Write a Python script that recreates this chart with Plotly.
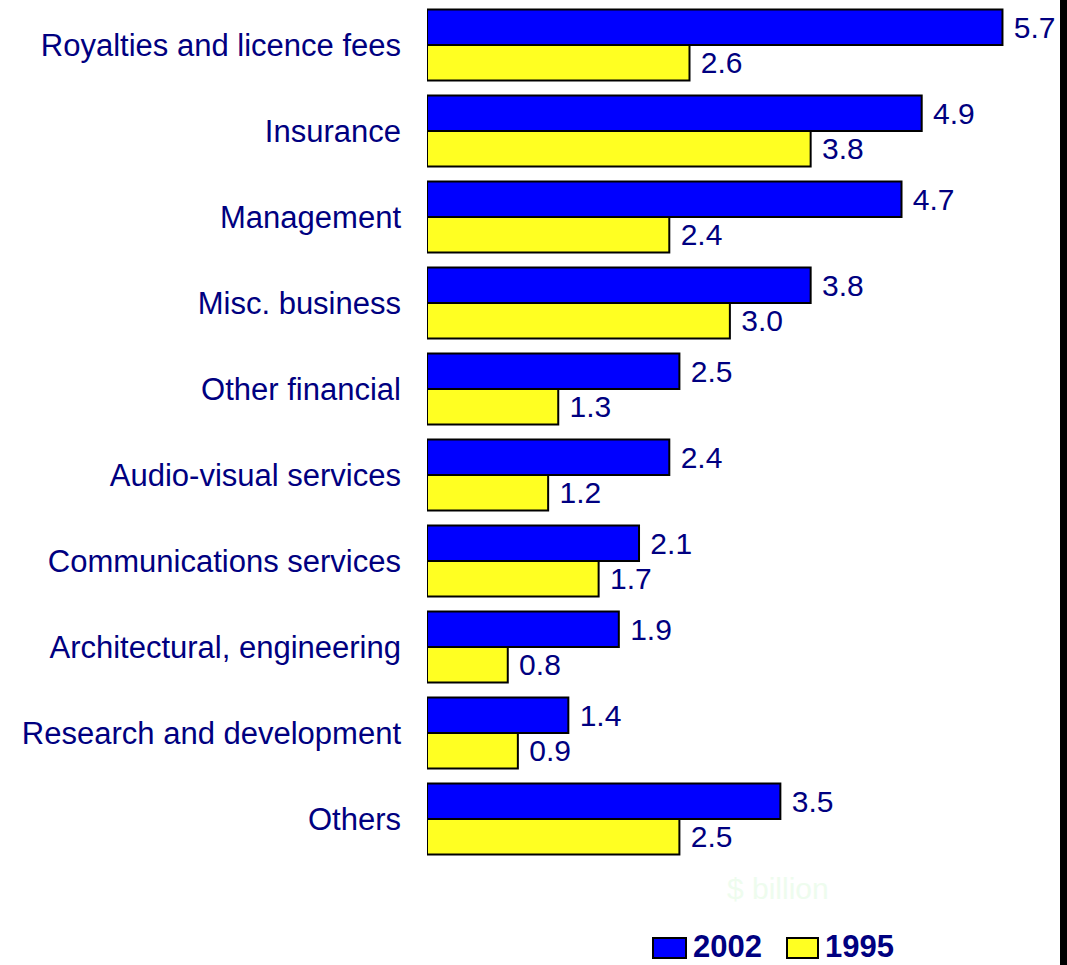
import plotly.graph_objects as go

# Service categories (top to bottom) and values in $ billion
categories = [
    "Royalties and licence fees",
    "Insurance",
    "Management",
    "Misc. business",
    "Other financial",
    "Audio-visual services",
    "Communications services",
    "Architectural, engineering",
    "Research and development",
    "Others",
]
values_2002 = [5.7, 4.9, 4.7, 3.8, 2.5, 2.4, 2.1, 1.9, 1.4, 3.5]
values_1995 = [2.6, 3.8, 2.4, 3.0, 1.3, 1.2, 1.7, 0.8, 0.9, 2.5]
series_names = ["2002", "1995"]
series_colors = ["#0000FF", "#FFFF22"]

NAVY = "#000080"
FONT = "Liberation Sans, Arial, sans-serif"

W, H = 1067, 965
M_L, M_R, M_T, M_B = 427, 9, 2, 103
PW, PH = W - M_L - M_R, H - M_T - M_B


def px_x(p):
    return (p - M_L) / PW


def px_y(p):
    return (H - M_B - p) / PH


fig = go.Figure()
for name, vals, col in zip(series_names, [values_2002, values_1995], series_colors):
    fig.add_trace(go.Bar(
        name=name,
        y=categories,
        x=vals,
        orientation="h",
        marker=dict(color=col, line=dict(color="black", width=2)),
        text=[f" {v:.1f}" for v in vals],
        textposition="outside",
        textfont=dict(family=FONT, size=30, color=NAVY),
        constraintext="none",
        cliponaxis=False,
        showlegend=False,
    ))

# Legend drawn as outlined swatches with bold labels
legend_items = [(653, 686, 691), (787, 818, 823)]
shapes = []
annotations = []
for (x0, x1, tx), name, col in zip(legend_items, series_names, series_colors):
    shapes.append(dict(type="rect", xref="paper", yref="paper",
                       x0=px_x(x0), x1=px_x(x1), y0=px_y(958), y1=px_y(938),
                       fillcolor=col, line=dict(color="black", width=2)))
    annotations.append(dict(text=f"<b>{name}</b>", xref="paper", yref="paper",
                            x=px_x(tx), y=px_y(946), xanchor="left", yanchor="middle",
                            showarrow=False,
                            font=dict(family=FONT, size=31, color=NAVY)))

# Unit caption
annotations.append(dict(text="$ billion", xref="paper", yref="paper",
                        x=px_x(778), y=px_y(888), xanchor="center", yanchor="middle",
                        showarrow=False,
                        font=dict(family=FONT, size=30, color="#EEFCEE")))

# Black strip along the right edge
shapes.append(dict(type="rect", xref="paper", yref="paper",
                   x0=px_x(1060), x1=px_x(1068), y0=px_y(H + 5), y1=px_y(-5),
                   fillcolor="black", line=dict(width=0), layer="above"))

fig.update_layout(
    width=W, height=H,
    margin=dict(l=M_L, r=M_R, t=M_T, b=M_B, autoexpand=False),
    paper_bgcolor="white", plot_bgcolor="white",
    barmode="group", bargap=0.175, bargroupgap=0,
    showlegend=False,
    shapes=shapes, annotations=annotations,
    xaxis=dict(range=[0, 6.25], visible=False, fixedrange=True),
    yaxis=dict(
        autorange="reversed", showgrid=False, zeroline=False, showline=False,
        ticks="", ticklabelstandoff=25, automargin=False,
        tickfont=dict(family=FONT, size=31, color=NAVY),
    ),
)

fig.write_html("out.html")
